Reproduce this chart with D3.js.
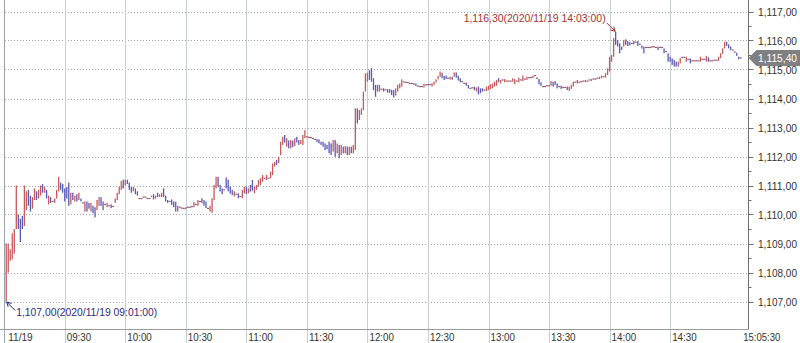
<!DOCTYPE html>
<html><head><meta charset="utf-8">
<script src="https://cdn.jsdelivr.net/npm/d3@7"></script>
<style>html,body{margin:0;padding:0;background:#fff;} svg{display:block;}</style>
</head><body><svg id="c" width="800" height="343"></svg>
<script>
// minute bars 09:01 .. 15:05 (USD/KRW, 2020/11/19)
const opens = [
1107.00,1108.00,1108.40,1108.45,1108.65,1109.50,1110.00,1109.85,1109.95,1109.60,
1110.15,1110.85,1110.65,1110.20,1110.50,1110.80,1110.55,1110.65,1111.05,1110.75,
1110.85,1110.35,1110.60,1110.45,1110.40,1110.55,1110.80,1111.10,1111.05,1110.90,
1110.95,1111.10,1110.35,1110.75,1110.45,1110.70,1110.50,1110.55,1110.40,1110.10,
1110.45,1110.40,1110.10,1110.30,1110.25,1110.15,1110.30,1110.60,1110.45,1110.35,
1110.25,1110.30,1110.35,1110.28,1110.40,1110.50,1110.70,1110.85,1111.20,1111.00,
1111.20,1111.10,1110.95,1110.80,1110.90,1110.80,1110.55,1110.55,1110.60,1110.60,
1110.55,1110.55,1110.60,1110.70,1110.55,1110.75,1110.60,1110.60,1110.90,1110.65,
1110.50,1110.45,1110.52,1110.45,1110.44,1110.10,1110.25,1110.22,1110.21,1110.22,
1110.25,1110.25,1110.27,1110.25,1110.35,1110.30,1110.45,1110.56,1110.50,1110.45,
1110.21,1110.10,1110.06,1110.50,1110.90,1111.30,1111.02,1110.90,1110.85,1111.28,
1111.20,1110.97,1110.85,1110.62,1110.70,1110.73,1110.62,1110.56,1110.73,1110.96,
1110.73,1111.02,1111.19,1110.73,1110.85,1110.96,1111.02,1111.13,1111.25,1111.19,
1111.25,1111.25,1111.36,1111.65,1111.88,1111.77,1112.05,1112.40,1112.74,1112.34,
1112.55,1112.28,1112.55,1112.37,1112.68,1112.57,1112.43,1112.40,1112.63,1112.68,
1112.66,1112.65,1112.62,1112.59,1112.60,1112.59,1112.51,1112.51,1112.45,1112.40,
1112.51,1112.45,1112.17,1112.57,1112.11,1112.40,1112.05,1112.34,1112.11,1112.34,
1112.05,1112.34,1112.11,1112.22,1113.66,1113.26,1113.43,1113.60,1114.24,1114.58,
1114.98,1115.05,1114.70,1114.47,1114.47,1114.24,1114.32,1114.35,1114.30,1114.32,
1114.32,1114.30,1114.29,1114.10,1114.24,1114.35,1114.41,1114.57,1114.56,1114.55,
1114.52,1114.52,1114.50,1114.52,1114.43,1114.41,1114.41,1114.38,1114.47,1114.48,
1114.48,1114.41,1114.47,1114.55,1114.66,1114.75,1114.89,1114.78,1114.79,1114.70,
1114.65,1114.75,1114.75,1114.90,1114.79,1114.70,1114.58,1114.52,1114.55,1114.47,
1114.35,1114.37,1114.41,1114.24,1114.41,1114.35,1114.35,1114.29,1114.26,1114.29,
1114.33,1114.35,1114.41,1114.44,1114.70,1114.52,1114.64,1114.56,1114.60,1114.60,
1114.60,1114.58,1114.49,1114.60,1114.56,1114.64,1114.60,1114.67,1114.64,1114.72,
1114.72,1114.70,1114.79,1114.70,1114.67,1114.56,1114.41,1114.41,1114.44,1114.44,
1114.44,1114.58,1114.60,1114.52,1114.41,1114.44,1114.38,1114.38,1114.41,1114.26,
1114.33,1114.41,1114.56,1114.52,1114.56,1114.58,1114.60,1114.56,1114.60,1114.64,
1114.60,1114.67,1114.67,1114.70,1114.67,1114.70,1114.75,1114.72,1114.81,1114.93,
1115.27,1115.44,1116.30,1116.02,1115.90,1115.79,1115.79,1116.04,1115.98,1115.94,
1115.90,1115.98,1115.94,1115.98,1115.87,1115.83,1115.79,1115.76,1115.76,1115.76,
1115.78,1115.78,1115.76,1115.79,1115.76,1115.76,1115.73,1115.62,1115.56,1115.44,
1115.38,1115.33,1115.27,1115.10,1115.21,1115.42,1115.42,1115.27,1115.35,1115.38,
1115.30,1115.30,1115.30,1115.30,1115.27,1115.35,1115.35,1115.27,1115.42,1115.30,
1115.30,1115.32,1115.32,1115.30,1115.39,1115.54,1115.73,1115.96,1115.87,1115.79,
1115.67,1115.60,1115.58,1115.44,1115.40];
const closes = [
1109.00,1109.00,1108.80,1109.35,1109.50,1111.00,1109.50,1109.05,1109.50,1111.00,
1110.80,1110.30,1110.10,1110.60,1110.90,1110.50,1110.85,1111.00,1110.75,1110.95,
1110.55,1110.65,1110.40,1110.45,1110.55,1110.85,1111.30,1110.85,1110.75,1110.45,
1110.55,1110.30,1110.75,1110.50,1110.65,1110.45,1110.75,1110.45,1110.40,1110.45,
1110.10,1110.20,1110.40,1110.05,1109.90,1110.50,1110.60,1110.30,1110.15,1110.35,
1110.40,1110.30,1110.22,1110.28,1110.55,1110.75,1110.95,1111.15,1110.90,1111.20,
1111.05,1110.85,1110.75,1110.95,1110.70,1110.65,1110.55,1110.55,1110.60,1110.60,
1110.55,1110.55,1110.65,1110.52,1110.65,1110.60,1110.70,1110.75,1110.60,1110.45,
1110.40,1110.45,1110.33,1110.25,1110.10,1110.30,1110.25,1110.22,1110.21,1110.22,
1110.25,1110.25,1110.27,1110.44,1110.35,1110.50,1110.45,1110.39,1110.30,1110.22,
1110.21,1110.30,1110.56,1111.02,1111.30,1110.95,1110.79,1110.70,1110.85,1110.90,
1110.80,1110.72,1110.67,1110.80,1110.70,1110.56,1110.62,1110.85,1110.96,1110.70,
1110.90,1110.79,1110.82,1110.96,1111.02,1111.19,1111.25,1111.36,1111.25,1111.36,
1111.25,1111.48,1111.76,1111.82,1111.70,1111.99,1112.51,1112.68,1112.48,1112.63,
1112.28,1112.57,1112.32,1112.63,1112.48,1112.40,1112.57,1112.74,1112.91,1112.68,
1112.66,1112.65,1112.62,1112.59,1112.50,1112.45,1112.40,1112.34,1112.22,1112.25,
1112.11,1112.05,1112.57,1111.99,1112.45,1111.94,1112.40,1112.11,1112.36,1112.05,
1112.34,1112.11,1112.40,1113.66,1113.14,1113.60,1113.66,1114.24,1114.87,1114.89,
1114.64,1114.58,1114.29,1114.06,1114.24,1114.47,1114.32,1114.24,1114.30,1114.20,
1114.20,1114.12,1114.04,1114.35,1114.47,1114.52,1114.66,1114.57,1114.56,1114.55,
1114.52,1114.52,1114.50,1114.43,1114.43,1114.41,1114.41,1114.50,1114.47,1114.48,
1114.48,1114.52,1114.58,1114.66,1114.78,1114.93,1114.70,1114.64,1114.67,1114.70,
1114.75,1114.65,1114.90,1114.72,1114.62,1114.56,1114.58,1114.52,1114.44,1114.35,
1114.35,1114.37,1114.29,1114.38,1114.14,1114.18,1114.24,1114.29,1114.41,1114.44,
1114.49,1114.52,1114.58,1114.64,1114.56,1114.64,1114.64,1114.67,1114.60,1114.60,
1114.60,1114.70,1114.67,1114.60,1114.72,1114.64,1114.79,1114.67,1114.75,1114.72,
1114.72,1114.79,1114.79,1114.70,1114.49,1114.44,1114.41,1114.41,1114.44,1114.44,
1114.60,1114.41,1114.47,1114.35,1114.41,1114.33,1114.38,1114.38,1114.29,1114.41,
1114.47,1114.58,1114.56,1114.64,1114.56,1114.58,1114.60,1114.64,1114.60,1114.64,
1114.67,1114.67,1114.67,1114.70,1114.75,1114.79,1114.75,1114.87,1115.04,1115.44,
1115.50,1116.08,1115.85,1115.79,1115.56,1115.67,1116.02,1115.85,1115.81,1115.83,
1115.90,1115.87,1115.94,1115.81,1115.87,1115.72,1115.56,1115.76,1115.76,1115.76,
1115.78,1115.78,1115.76,1115.67,1115.76,1115.76,1115.56,1115.62,1115.27,1115.27,
1115.16,1115.10,1115.10,1115.27,1115.39,1115.42,1115.42,1115.44,1115.35,1115.21,
1115.30,1115.30,1115.30,1115.30,1115.44,1115.35,1115.35,1115.47,1115.27,1115.30,
1115.30,1115.32,1115.32,1115.44,1115.56,1115.73,1115.96,1115.81,1115.73,1115.67,
1115.67,1115.60,1115.47,1115.35,1115.40];
const timeTickMinutes = [0,30,60,90,120,150,180,210,240,270,300,330];
const timeTickLabels = ["11/19","09:30","10:00","10:30","11:00","11:30","12:00","12:30","13:00","13:30","14:00","14:30"];
const lastTimeLabel = "15:05:30";
const priceTicks = [1107,1108,1109,1110,1111,1112,1113,1114,1115,1116,1117];
const dateLabel = "2020/11/19";

const svg = d3.select("#c");
const W = 800, H = 343;
const axisX = 748.5, axisY = 329.5;
const x = d3.scaleLinear().domain([0, 365]).range([4.2, 4.2 + 2.018*365]);
const y = d3.scaleLinear().domain([1107, 1117]).range([301.5, 11.5]);
const fmtP = v => d3.format(",.2f")(v).replace(".", ",");
const fmtT = m => { const t = 9*60 + m; return d3.format("02d")(Math.floor(t/60)) + ":" + d3.format("02d")(t%60) + ":00"; };
const FONT = "'Liberation Sans', Arial, sans-serif";

// horizontal dotted gridlines
svg.append("g").selectAll("line").data(priceTicks).join("line")
  .attr("x1", 5).attr("x2", axisX).attr("y1", d => Math.round(y(d))+0.5).attr("y2", d => Math.round(y(d))+0.5)
  .attr("stroke", "#a8a8a8").attr("stroke-dasharray", "1,2").attr("stroke-width", 1);

// vertical gridlines
svg.append("g").selectAll("line").data(timeTickMinutes).join("line")
  .attr("x1", d => Math.round(x(d))+0.5).attr("x2", d => Math.round(x(d))+0.5)
  .attr("y1", 0).attr("y2", H)
  .attr("stroke", d => d === 0 ? "#9aa4ae" : "#c5cfd8").attr("stroke-width", 1);

// axes lines
svg.append("line").attr("x1", 0).attr("x2", axisX).attr("y1", axisY).attr("y2", axisY).attr("stroke", "#9a9a9a");
svg.append("line").attr("x1", axisX).attr("x2", axisX).attr("y1", 0).attr("y2", axisY).attr("stroke", "#707070");

// right axis ticks
const halfTicks = d3.range(1107, 1117.01, 0.5);
svg.append("g").selectAll("line").data(halfTicks).join("line")
  .attr("x1", axisX).attr("x2", d => axisX + (Number.isInteger(d) ? 5 : 3))
  .attr("y1", d => Math.round(y(d))+0.5).attr("y2", d => Math.round(y(d))+0.5)
  .attr("stroke", "#707070");

// right axis labels
svg.append("g").selectAll("text").data(priceTicks).join("text")
  .attr("x", 758).attr("y", d => y(d) + 4)
  .attr("font-family", FONT).attr("font-size", 11).attr("fill", "#333")
  .attr("textLength", 39).attr("lengthAdjust", "spacingAndGlyphs")
  .text(d => fmtP(d));

// bottom labels
svg.append("g").selectAll("text").data(timeTickMinutes).join("text")
  .attr("x", (d, i) => x(d) + (i === 0 ? 4 : 2)).attr("y", 341)
  .attr("font-family", FONT).attr("font-size", 11).attr("fill", "#333")
  .attr("textLength", 24.5).attr("lengthAdjust", "spacingAndGlyphs")
  .text((d, i) => timeTickLabels[i]);
svg.append("text").attr("x", x(365) + 2.5).attr("y", 341)
  .attr("font-family", FONT).attr("font-size", 11).attr("fill", "#333")
  .attr("textLength", 37).attr("lengthAdjust", "spacingAndGlyphs")
  .text(lastTimeLabel);

// bars
const bars = opens.map((o, i) => ({m: i + 1, o, c: closes[i]}));
const UP = "#c85a5a", DN = "#5a5ab8", FLAT = "#9a5a74";
svg.append("g").selectAll("rect").data(bars).join("rect")
  .attr("x", d => d.o === d.c ? x(d.m) - 1 : x(d.m) - 0.65)
  .attr("width", d => d.o === d.c ? 2 : 1.3)
  .attr("y", d => d.o === d.c ? y(d.o) - 0.6 : y(Math.max(d.o, d.c)))
  .attr("height", d => d.o === d.c ? 1.2 : Math.max(1.2, y(Math.min(d.o, d.c)) - y(Math.max(d.o, d.c))))
  .attr("fill", d => d.c > d.o ? UP : d.c < d.o ? DN : FLAT);

// annotations for low / high
const lows = bars.map(d => Math.min(d.o, d.c)), highs = bars.map(d => Math.max(d.o, d.c));
const iLo = d3.minIndex(lows), iHi = d3.maxIndex(highs);
function arrow(x0, y0, x1, y1, col) {
  const g = svg.append("g").attr("stroke", col).attr("stroke-width", 1).attr("fill", "none");
  g.append("line").attr("x1", x0).attr("y1", y0).attr("x2", x1).attr("y2", y1);
  const a = Math.atan2(y1 - y0, x1 - x0), L = 5;
  [a + Math.PI - 0.5, a + Math.PI + 0.5].forEach(b => {
    g.append("line").attr("x1", x1).attr("y1", y1).attr("x2", x1 + L*Math.cos(b)).attr("y2", y1 + L*Math.sin(b));
  });
}
const loX = x(bars[iLo].m), loY = y(lows[iLo]);
arrow(loX + 9, loY + 9, loX + 0.5, loY + 0.5, "#2b2b80");
svg.append("text").attr("x", loX + 10).attr("y", loY + 14)
  .attr("font-family", FONT).attr("font-size", 11).attr("fill", "#2b2b80")
  .attr("textLength", 141).attr("lengthAdjust", "spacingAndGlyphs")
  .text(fmtP(lows[iLo]) + "(" + dateLabel + " " + fmtT(bars[iLo].m) + ")");
const hiX = x(bars[iHi].m), hiY = y(highs[iHi]);
arrow(hiX - 9, hiY - 9, hiX - 0.5, hiY - 0.5, "#a83232");
svg.append("text").attr("x", hiX - 10).attr("y", hiY - 10).attr("text-anchor", "end")
  .attr("font-family", FONT).attr("font-size", 11).attr("fill", "#a83232")
  .attr("textLength", 142).attr("lengthAdjust", "spacingAndGlyphs")
  .text(fmtP(highs[iHi]) + "(" + dateLabel + " " + fmtT(bars[iHi].m) + ")");

// current price box
const last = closes[closes.length - 1], ly = y(last);
svg.append("polygon")
  .attr("points", [[axisX, ly], [axisX + 8, ly - 8], [W, ly - 8], [W, ly + 8], [axisX + 8, ly + 8]].map(p => p.join(",")).join(" "))
  .attr("fill", "#808080");
svg.append("text").attr("x", 758).attr("y", ly + 4)
  .attr("font-family", FONT).attr("font-size", 11).attr("fill", "#fff")
  .attr("textLength", 39).attr("lengthAdjust", "spacingAndGlyphs")
  .text(fmtP(last));
</script></body></html>
